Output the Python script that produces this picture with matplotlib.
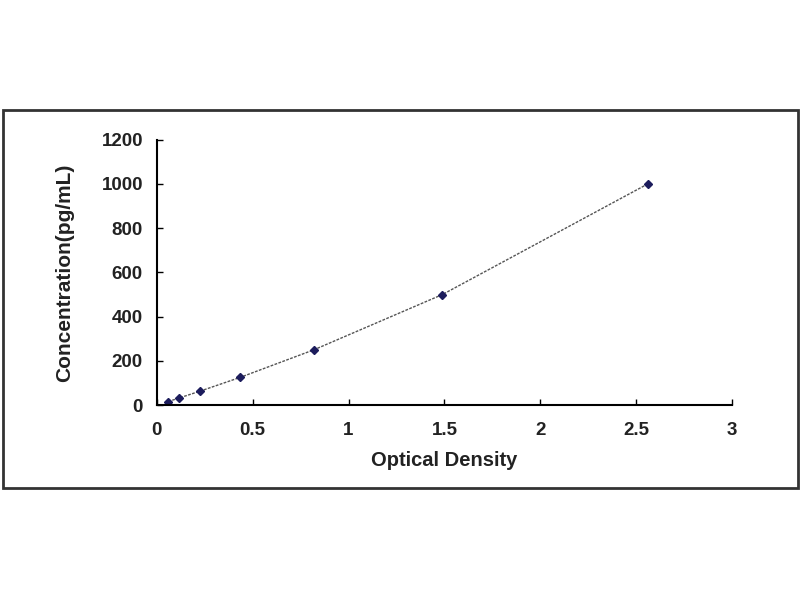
import matplotlib
matplotlib.use('Agg')
import matplotlib.pyplot as plt
from matplotlib.patches import Rectangle

# standard curve values
od = [0.06, 0.115, 0.225, 0.435, 0.82, 1.49, 2.56]
conc = [15.6, 31.25, 62.5, 125, 250, 500, 1000]
xticks = [0, 0.5, 1, 1.5, 2, 2.5, 3]
xticklabels = ['0', '0.5', '1', '1.5', '2', '2.5', '3']
yticks = [0, 200, 400, 600, 800, 1000, 1200]

plt.rcParams['font.family'] = ['Liberation Sans', 'DejaVu Sans']
fontsize = 13.5

fig = plt.figure(figsize=(8, 6), dpi=100)
fig.patches.append(Rectangle((0.004, 0.187), 0.993, 0.630, transform=fig.transFigure,
                             fill=False, edgecolor='#333333', linewidth=2))

ax = fig.add_axes([0.196, 0.325, 0.719, 0.442])
ax.plot(od, conc, linestyle=(0, (2, 1)), color='#555555', linewidth=1)
ax.plot(od, conc, linestyle='none', marker='D', markersize=4, color='#1c1c5c')

ax.set_xlim(0, 3)
ax.set_ylim(0, 1200)
ax.set_xticks(xticks)
ax.set_xticklabels(xticklabels)
ax.set_yticks(yticks)
ax.spines['top'].set_visible(False)
ax.spines['right'].set_visible(False)
ax.spines['left'].set_linewidth(1.5)
ax.spines['bottom'].set_linewidth(1.5)
ax.tick_params(direction='in', length=4, width=1, labelsize=fontsize)
ax.tick_params(axis='x', pad=12)
ax.tick_params(axis='y', pad=10)
for lab in ax.get_xticklabels() + ax.get_yticklabels():
    lab.set_fontweight('bold')
    lab.set_color('#222222')

ax.set_xlabel('Optical Density', fontsize=14.5, fontweight='bold', color='#222222', labelpad=9)
ax.set_ylabel('Concentration(pg/mL)', fontsize=15, fontweight='bold', color='#222222', labelpad=20)

fig.savefig('out.png', dpi=100)
